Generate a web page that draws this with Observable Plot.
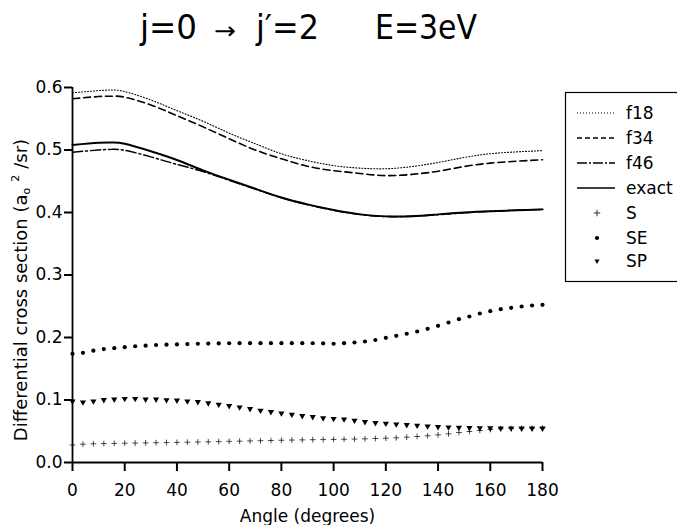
<!DOCTYPE html>
<html><head><meta charset="utf-8">
<script src="https://cdn.jsdelivr.net/npm/d3@7"></script>
<script src="https://cdn.jsdelivr.net/npm/@observablehq/plot@0.6"></script>
<style>
html,body{margin:0;padding:0;background:#fff;}
#wrap{width:677px;height:525px;overflow:hidden;font-family:"DejaVu Sans";}
</style></head><body><div id="wrap"></div>
<script>
// ---- data ----
const lineAngles = [0,10,15,20,30,40,50,60,70,80,90,100,110,120,130,140,150,160,170,180];
const f18   = [0.5915,0.595,0.596,0.5935,0.580,0.563,0.546,0.527,0.510,0.494,0.483,0.475,0.471,0.470,0.4735,0.480,0.488,0.494,0.497,0.499];
const f34   = [0.582,0.5855,0.586,0.5845,0.572,0.555,0.537,0.518,0.500,0.486,0.474,0.467,0.4625,0.459,0.461,0.466,0.4735,0.479,0.482,0.4845];
const f46   = [0.4965,0.500,0.501,0.4995,0.489,0.477,0.4655,0.4515,0.4375,0.4235,0.4125,0.4035,0.397,0.3935,0.394,0.3965,0.3995,0.402,0.4035,0.405];
const exact = [0.508,0.5115,0.512,0.510,0.498,0.484,0.4675,0.4525,0.438,0.424,0.413,0.404,0.397,0.3938,0.394,0.397,0.400,0.402,0.4035,0.405];

const dotAngles = [0,4,8,12,16,20,24,28,32,36,40,44,48,52,56,60,64,68,72,76,80,84,88,92,96,100,104,108,112,116,120,124,128,132,136,140,144,148,152,156,160,164,168,172,176,180];
const S  = [0.028,0.0293,0.030,0.0303,0.0306,0.0309,0.0311,0.0314,0.0317,0.0319,0.0322,0.0325,0.0328,0.0331,0.0334,0.0338,0.0341,0.0345,0.0349,0.0352,0.0356,0.0359,0.0362,0.0365,0.0367,0.0369,0.0372,0.0375,0.0379,0.0384,0.0389,0.0395,0.0405,0.0416,0.0428,0.0443,0.0459,0.048,0.0496,0.0512,0.0528,0.0539,0.0544,0.0548,0.055,0.055];
const SE = [0.174,0.1755,0.179,0.1815,0.183,0.1845,0.186,0.187,0.188,0.1885,0.189,0.1895,0.190,0.1903,0.1906,0.1908,0.191,0.191,0.191,0.191,0.191,0.191,0.191,0.1908,0.1905,0.190,0.191,0.192,0.1936,0.196,0.1995,0.2027,0.206,0.2096,0.2139,0.2187,0.224,0.2293,0.2336,0.2384,0.2421,0.2453,0.2475,0.2496,0.2512,0.2523];
const SP = [0.098,0.0965,0.098,0.1003,0.101,0.102,0.102,0.101,0.101,0.100,0.0995,0.098,0.097,0.095,0.0928,0.0907,0.0885,0.0859,0.0832,0.081,0.0789,0.0768,0.0747,0.073,0.071,0.070,0.0693,0.0672,0.065,0.0635,0.0624,0.0613,0.0602,0.0592,0.058,0.057,0.0565,0.056,0.0555,0.0553,0.055,0.0548,0.0548,0.0547,0.0547,0.0547];

const xTicks = [0,20,40,60,80,100,120,140,160,180];
const yTicks = [0,0.1,0.2,0.3,0.4,0.5,0.6];
const legendNames = ["f18","f34","f46","exact","S","SE","SP"];
const titleParts = ["j=0","\u2192","j\u2032=2","E=3eV"];

// ---- styles ----
const lineStyle = {
  f18:   {dash:"1,2",        width:1.1},
  f34:   {dash:"7,4",        width:1.6},
  f46:   {dash:"10,3,2,3",   width:1.5},
  exact: {dash:null,         width:2}
};
// outward tick length, expressed in each scale's units (about 9 px and 8 px)
const xTickDepth = -0.0144, yTickDepth = -3.06;

const toRows = (name, ys, xs) => ys.map((v,i) => ({s:name, a:xs[i], v}));
const lineSeries = {f18, f34, f46, exact};

const lineMarks = Object.entries(lineSeries).map(([name, ys]) =>
  Plot.line(toRows(name, ys, lineAngles), {
    x:"a", y:"v", stroke:"black", curve:"natural",
    strokeWidth: lineStyle[name].width,
    strokeDasharray: lineStyle[name].dash || undefined
  }));

const chart = Plot.plot({
  width: 677, height: 525,
  marginTop: 87, marginBottom: 63, marginLeft: 72, marginRight: 135,
  style: {fontFamily:"DejaVu Sans", fontSize:"17px", color:"black", background:"white", overflow:"visible"},
  x: {domain:[0,180]},
  y: {domain:[0,0.6]},
  marks: [
    Plot.axisX({ticks:xTicks, tickSize:0, tickPadding:21, label:"Angle (degrees)", labelAnchor:"center", labelOffset:59, labelArrow:"none"}),
    Plot.axisY({ticks:yTicks, tickSize:0, tickPadding:10, tickFormat:d3.format(".1f"), label:null}),
    ...lineMarks,
    Plot.dot(toRows("S", S, dotAngles), {x:"a", y:"v", symbol:"plus", r:2, stroke:"black", strokeWidth:0.7}),
    Plot.dot(toRows("SE", SE, dotAngles), {x:"a", y:"v", symbol:"circle", r:2.1, fill:"black", stroke:"none"}),
    Plot.dot(toRows("SP", SP, dotAngles), {x:"a", y:"v", symbol:"triangle", r:2.3, rotate:180, fill:"black", stroke:"none"}),
    Plot.ruleX([0], {strokeWidth:1.8}),
    Plot.ruleY([0], {strokeWidth:1.8}),
    Plot.ruleX(xTicks, {x:d=>d, y1:0, y2:xTickDepth, stroke:"black", strokeWidth:2}),
    Plot.ruleY(yTicks, {y:d=>d, x1:0, x2:yTickDepth, stroke:"black", strokeWidth:2})
  ]
});
document.getElementById("wrap").appendChild(chart);

// ---- extras drawn into the same SVG: title, y label, legend ----
const ov = d3.select(chart).append("g").attr("font-family","DejaVu Sans").attr("text-anchor","start");

// title
const tx = [140, 214, 256, 375], tl = [57, 22, 63, 102], ts = [34, 24, 34, 34];
const title = ov.append("text").attr("y",39).attr("fill","black").attr("text-anchor","start");
titleParts.forEach((t,i) => title.append("tspan")
  .attr("x",tx[i]).attr("font-size",ts[i]).attr("text-anchor","start")
  .attr("textLength",tl[i]).attr("lengthAdjust","spacingAndGlyphs")
  .text(t));

// y label
const yl = ov.append("text").attr("transform","translate(27,290) rotate(-90)")
  .attr("text-anchor","middle").attr("font-size",18).attr("fill","black");
yl.append("tspan").text("Differential cross section (a");
yl.append("tspan").attr("font-size",11).attr("dy",3).text("o");
yl.append("tspan").attr("font-size",11).attr("dx",6).attr("dy",-11).text("2");
yl.append("tspan").attr("font-size",18).attr("dx",6).attr("dy",8).text("/sr)");

// legend
const lg = ov.append("g");
lg.append("rect").attr("x",565.5).attr("y",92.5).attr("width",130).attr("height",189)
  .attr("fill","white").attr("stroke","black").attr("stroke-width",1.2);
const rowY = [113, 138, 163, 188, 213, 238, 261];
legendNames.forEach((name,i) => {
  const y = rowY[i];
  if (lineStyle[name]) {
    const st = lineStyle[name];
    lg.append("line").attr("x1",577).attr("x2",615).attr("y1",y).attr("y2",y)
      .attr("stroke","black").attr("stroke-width",name==="exact"?1.6:st.width)
      .attr("stroke-dasharray", name==="f34" ? "5,3" : name==="f46" ? "10,2,2,2" : st.dash);
  } else if (name==="S") {
    lg.append("path").attr("d", d3.symbol(d3.symbolPlus, 16)())
      .attr("transform", `translate(597,${y})`)
      .attr("fill","none").attr("stroke","black").attr("stroke-width",0.8);
  } else {
    const sym = name==="SE" ? d3.symbolCircle : d3.symbolTriangle;
    const size = name==="SE" ? 14 : 11;
    lg.append("path").attr("d", d3.symbol(sym, size)())
      .attr("transform", `translate(597,${y})` + (name==="SP" ? " rotate(180)" : ""))
      .attr("fill","black");
  }
  lg.append("text").attr("x",626).attr("y",y).attr("dy","0.36em").attr("text-anchor","start")
    .attr("font-size",17).attr("fill","black").text(name);
});
</script></body></html>
